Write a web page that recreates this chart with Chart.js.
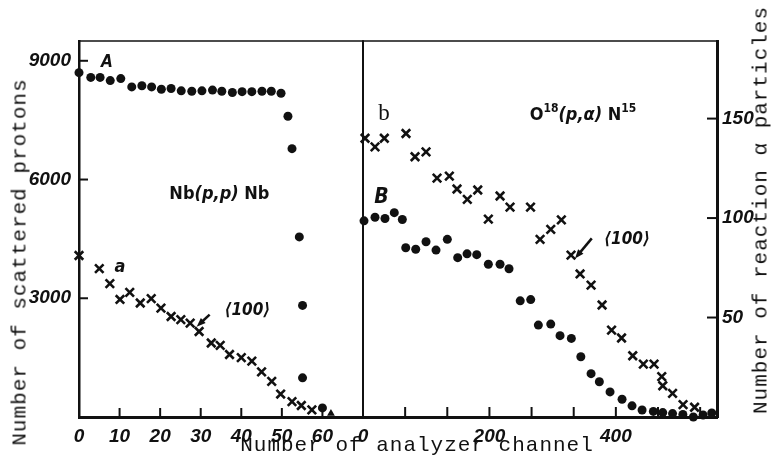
<!DOCTYPE html>
<html>
<head>
<meta charset="utf-8">
<script src="https://cdn.jsdelivr.net/npm/chart.js@4.4.1/dist/chart.umd.min.js"></script>
<style>
  html, body { margin: 0; padding: 0; background: #fff; }
  #wrap { position: relative; width: 777px; height: 469px; overflow: hidden; }
  canvas { position: absolute; top: 0; }
  #leftCanvas { left: 0; }
  #rightCanvas { left: 343px; }
  .axis-title {
    position: absolute;
    font-family: "Liberation Mono", "DejaVu Sans Mono", monospace;
    font-size: 21px;
    letter-spacing: 1px;
    color: #111;
    white-space: nowrap;
    transform: translate(-50%, -50%);
  }
  .axis-title.vertical { transform: translate(-50%, -50%) rotate(-90deg); }
</style>
</head>
<body>
<div id="wrap">
  <canvas id="leftCanvas" width="375" height="469"></canvas>
  <canvas id="rightCanvas" width="434" height="469"></canvas>
  <div class="axis-title vertical" style="left:20px;top:262px">Number of scattered protons</div>
  <div class="axis-title vertical" style="left:761px;top:210px">Number of reaction α particles</div>
  <div class="axis-title" style="left:417px;top:445px">Number of analyzer channel</div>
</div>
<script>
// Nb(p,p)Nb, random direction (A, dots)
const nbRandomChannels = [0, 2.9, 5.2, 7.7, 10.3, 13, 15.5, 17.9, 20.3, 22.7, 25.2, 27.8, 30.3, 32.9,
    35.2, 37.8, 40.2, 42.6, 45.1, 47.4, 49.8, 51.5, 52.5, 54.3, 55.1, 55.1, 60, 62.1];
const nbRandomCounts = [8700, 8580, 8580, 8500, 8550, 8340, 8370, 8340, 8280, 8300, 8240, 8230, 8240, 8260,
    8230, 8200, 8220, 8220, 8230, 8230, 8180, 7600, 6780, 4550, 2820, 990, 230, 90];

// Nb(p,p)Nb, <100> channel (a, crosses)
const nbAlignedChannels = [0, 5, 7.6, 10.1, 12.5, 15.1, 17.8, 20.2, 22.7, 25.1, 27.4, 29.6, 32.6, 34.8,
    37.1, 40, 42.6, 45, 47.5, 49.7, 52.5, 54.8, 57.4];
const nbAlignedCounts = [4080, 3750, 3370, 2970, 3150, 2880, 2990, 2750, 2540, 2460, 2370, 2160, 1870, 1810,
    1580, 1500, 1410, 1140, 900, 580, 390, 290, 180];

// O18(p,alpha)N15, random direction (B, dots)
const oRandomChannels = [1.6, 19, 34.8, 49.5, 62.2, 67.6, 83.4, 99.7, 115.5, 133.4, 149.8, 164.6, 179.9,
    198.3, 216.8, 231, 248.7, 265.3, 277.4, 297, 311.7, 329.6, 344.6, 360.8, 373.9, 390.8, 409.8, 425.6,
    441.5, 459.3, 474.2, 489.7, 506, 522.6, 538, 551.7];
const oRandomCounts = [98.6, 100.4, 99.8, 102.7, 99.3, 85.1, 84.3, 88.1, 83.9, 89.3, 80.1, 82, 81.6,
    76.8, 76.8, 74.5, 58.4, 59, 46.2, 46.7, 40.9, 39.5, 30.3, 21.8, 17.7, 12.6, 8.9, 5.6,
    3.5, 2.8, 2.2, 1.7, 1.3, 0, 1, 2];

// O18(p,alpha)N15, <100> channel (b, crosses)
const oAlignedChannels = [3.2, 19, 33.7, 68, 82.3, 99.7, 117.1, 136.6, 148.7, 165, 181.5, 198.3, 216.8,
    232.6, 265, 280.1, 297, 313.8, 329.1, 343.4, 360.8, 378.2, 393.2, 409, 426.7, 443.5, 460.4, 472.6,
    474.2, 489.7, 506.3, 524.5];
const oAlignedCounts = [140.1, 135.8, 140.1, 142.5, 130.8, 133.3, 120.1, 121.1, 114.6, 109.4, 114.1, 99.5, 111.1,
    105.5, 105.5, 89.3, 94.3, 99.1, 81.4, 71.9, 66.3, 56.3, 43.7, 39.7, 30.8, 26.6, 26.6, 20.3,
    15.7, 11.9, 6.2, 4.9];

// tick labels
const leftXTicks = [0, 10, 20, 30, 40, 50, 60, 70];
const leftXLabels = ['0', '10', '20', '30', '40', '50', '60', ''];
const leftYTicks = [3000, 6000, 9000];
const rightXTicks = [0, 200 / 3, 400 / 3, 200, 800 / 3, 1000 / 3, 400, 1400 / 3, 1600 / 3];
const rightXLabels = ['0', '', '', '200', '', '', '400', '', ''];
const rightYTicks = [50, 100, 150];

const ink = '#111';
const narrow = '"DejaVu Sans Condensed", "Liberation Sans", sans-serif';
const tickFont = { family: '"Liberation Sans", Arial, sans-serif', size: 19, style: 'italic', weight: 'bold' };

function toPoints(xs, ys) {
    return xs.map((x, i) => ({ x, y: ys[i] }));
}

const frameTicks = {
    id: 'frameTicks',
    beforeDatasetsDraw(chart, args, opts) {
        const { ctx, chartArea: a } = chart;
        const xs = chart.scales.x;
        const ys = chart.scales.y;
        const len = opts.len || 9;
        ctx.save();
        ctx.strokeStyle = ink;
        ctx.lineCap = 'butt';
        ctx.lineWidth = 2;
        xs.ticks.forEach((t) => {
            const px = xs.getPixelForValue(t.value);
            if (px <= a.left + 2 || px >= a.right - 2) return;
            ctx.beginPath();
            ctx.moveTo(px, a.bottom);
            ctx.lineTo(px, a.bottom - len);
            ctx.stroke();
        });
        const onRight = ys.options.position === 'right';
        const edge = onRight ? a.right : a.left;
        ys.ticks.forEach((t) => {
            const py = ys.getPixelForValue(t.value);
            ctx.beginPath();
            ctx.moveTo(edge, py);
            ctx.lineTo(edge + (onRight ? -len : len), py);
            ctx.stroke();
        });
        ctx.lineWidth = 1.5;
        ctx.beginPath();
        ctx.moveTo(a.left - 1, a.top);
        ctx.lineTo(a.right + 1, a.top);
        ctx.stroke();
        if (opts.leftEdge) {
            ctx.lineWidth = 2;
            ctx.beginPath();
            ctx.moveTo(a.left, a.top);
            ctx.lineTo(a.left, a.bottom);
            ctx.stroke();
        }
        ctx.restore();
    },
};

const notes = {
    id: 'notes',
    afterDatasetsDraw(chart, args, opts) {
        const { ctx } = chart;
        const xs = chart.scales.x;
        const ys = chart.scales.y;
        ctx.save();
        ctx.fillStyle = ink;
        ctx.strokeStyle = ink;
        ctx.textBaseline = 'alphabetic';
        ctx.textAlign = 'left';
        (opts.texts || []).forEach((n) => {
            let total = 0;
            n.parts.forEach((p) => {
                ctx.font = p.font;
                total += ctx.measureText(p.text).width;
            });
            let cx = xs.getPixelForValue(n.x) - total / 2;
            const by = ys.getPixelForValue(n.y);
            n.parts.forEach((p) => {
                ctx.font = p.font;
                ctx.fillText(p.text, cx, by + (p.dy || 0));
                cx += ctx.measureText(p.text).width;
            });
        });
        (opts.arrows || []).forEach((ar) => {
            const x0 = xs.getPixelForValue(ar.from[0]);
            const y0 = ys.getPixelForValue(ar.from[1]);
            const x1 = xs.getPixelForValue(ar.to[0]);
            const y1 = ys.getPixelForValue(ar.to[1]);
            const ang = Math.atan2(y1 - y0, x1 - x0);
            ctx.lineWidth = 2.5;
            ctx.beginPath();
            ctx.moveTo(x0, y0);
            ctx.lineTo(x1 - Math.cos(ang) * 5, y1 - Math.sin(ang) * 5);
            ctx.stroke();
            ctx.beginPath();
            ctx.moveTo(x1, y1);
            ctx.lineTo(x1 - Math.cos(ang) * 9 + Math.sin(ang) * 3.5, y1 - Math.sin(ang) * 9 - Math.cos(ang) * 3.5);
            ctx.lineTo(x1 - Math.cos(ang) * 9 - Math.sin(ang) * 3.5, y1 - Math.sin(ang) * 9 + Math.cos(ang) * 3.5);
            ctx.closePath();
            ctx.fill();
        });
        ctx.restore();
    },
};

function bi(size) {
    return `italic bold ${size}px ${narrow}`;
}
function bold(size) {
    return `bold ${size}px ${narrow}`;
}

function dotSet(data, extra) {
    return Object.assign({
        data,
        pointStyle: 'circle',
        pointRadius: 4.5,
        backgroundColor: ink,
        borderColor: ink,
        borderWidth: 0,
        clip: false,
    }, extra || {});
}
function crossSet(data) {
    return {
        data,
        pointStyle: 'crossRot',
        pointRadius: 6,
        backgroundColor: ink,
        borderColor: ink,
        borderWidth: 2.6,
        clip: false,
    };
}

const baseOptions = {
    responsive: false,
    animation: false,
    events: [],
    plugins: { legend: { display: false }, tooltip: { enabled: false } },
};

const nbStyles = nbRandomChannels.map((_, i) => (i === nbRandomChannels.length - 1 ? 'triangle' : 'circle'));

new Chart(document.getElementById('leftCanvas'), {
    type: 'scatter',
    data: {
        datasets: [
            dotSet(toPoints(nbRandomChannels, nbRandomCounts), { pointStyle: nbStyles }),
            crossSet(toPoints(nbAlignedChannels, nbAlignedCounts)),
        ],
    },
    options: {
        ...baseOptions,
        layout: { padding: { top: 41, right: 12, left: 0, bottom: 0 } },
        scales: {
            x: {
                type: 'linear',
                min: 0,
                max: 70,
                afterBuildTicks: (s) => { s.ticks = leftXTicks.map((v) => ({ value: v })); },
                afterFit: (s) => { s.height = 52; },
                ticks: {
                    autoSkip: false,
                    maxRotation: 0,
                    padding: 8,
                    color: ink,
                    font: tickFont,
                    callback: (v, i) => leftXLabels[i],
                },
                grid: { display: false, drawTicks: false },
                border: { display: true, width: 3, color: ink },
            },
            y: {
                type: 'linear',
                min: 0,
                max: 9500,
                afterBuildTicks: (s) => { s.ticks = leftYTicks.map((v) => ({ value: v })); },
                afterFit: (s) => { s.width = 79; },
                ticks: { padding: 8, color: ink, font: tickFont, callback: (v) => String(v) },
                grid: { display: false, drawTicks: false },
                border: { display: true, width: 2.5, color: ink },
            },
        },
        plugins: {
            ...baseOptions.plugins,
            frameTicks: { len: 9 },
            notes: {
                texts: [
                    { x: 6.9, y: 8851, parts: [{ text: 'A', font: bi(17) }] },
                    { x: 10.1, y: 3652, parts: [{ text: 'a', font: bi(18) }] },
                    { x: 34.6, y: 5503, parts: [
                        { text: 'Nb', font: bold(18) },
                        { text: '(p,p)', font: bi(18) },
                        { text: ' Nb', font: bold(18) },
                    ] },
                    { x: 41.5, y: 2587, parts: [{ text: '⟨100⟩', font: bi(17) }] },
                ],
                arrows: [{ from: [32.2, 2587], to: [29.0, 2282] }],
            },
        },
    },
    plugins: [frameTicks, notes],
});

new Chart(document.getElementById('rightCanvas'), {
    type: 'scatter',
    data: {
        datasets: [
            dotSet(toPoints(oRandomChannels, oRandomCounts)),
            crossSet(toPoints(oAlignedChannels, oAlignedCounts)),
        ],
    },
    options: {
        ...baseOptions,
        layout: { padding: { top: 41, right: 0, left: 20, bottom: 0 } },
        scales: {
            x: {
                type: 'linear',
                min: 0,
                max: 560,
                afterBuildTicks: (s) => { s.ticks = rightXTicks.map((v) => ({ value: v })); },
                afterFit: (s) => { s.height = 52; },
                ticks: {
                    autoSkip: false,
                    maxRotation: 0,
                    padding: 8,
                    color: ink,
                    font: tickFont,
                    callback: (v, i) => rightXLabels[i],
                },
                grid: { display: false, drawTicks: false },
                border: { display: true, width: 3, color: ink },
            },
            y: {
                type: 'linear',
                position: 'right',
                min: 0,
                max: 189,
                afterBuildTicks: (s) => { s.ticks = rightYTicks.map((v) => ({ value: v })); },
                afterFit: (s) => { s.width = 60; },
                ticks: { padding: 5, color: ink, font: tickFont, callback: (v) => String(v) },
                grid: { display: false, drawTicks: false },
                border: { display: true, width: 3, color: ink },
            },
        },
        plugins: {
            ...baseOptions.plugins,
            frameTicks: { len: 10, leftEdge: true },
            notes: {
                texts: [
                    { x: 33.2, y: 149.2, parts: [{ text: 'b', font: '23px "Liberation Serif", "DejaVu Serif", serif' }] },
                    { x: 348, y: 149.2, parts: [
                        { text: 'O', font: bold(18) },
                        { text: '18', font: bold(12), dy: -8 },
                        { text: '(p,α)', font: bi(18) },
                        { text: ' N', font: bold(18) },
                        { text: '15', font: bold(12), dy: -8 },
                    ] },
                    { x: 29.3, y: 107.5, parts: [{ text: 'B', font: bi(21) }] },
                    { x: 417.7, y: 86.9, parts: [{ text: '⟨100⟩', font: bi(17) }] },
                ],
                arrows: [{ from: [361.9, 89.8], to: [335.4, 79.7] }],
            },
        },
    },
    plugins: [frameTicks, notes],
});
</script>
</body>
</html>
